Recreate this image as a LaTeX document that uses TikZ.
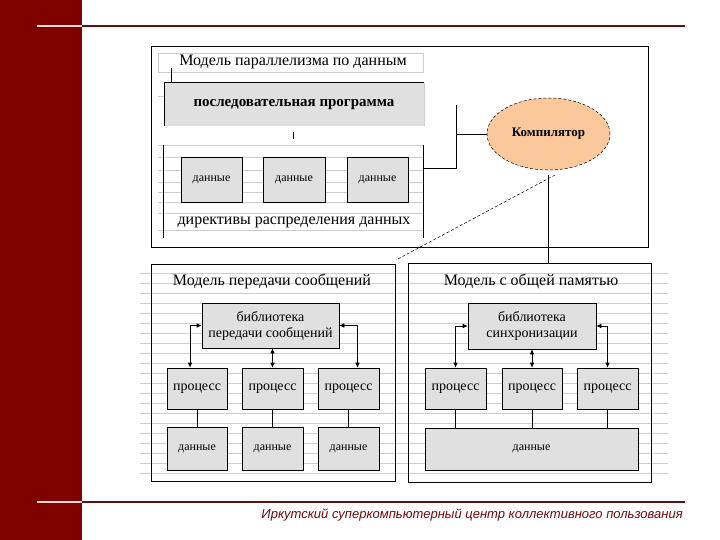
\documentclass[tikz,border=0pt]{standalone}
\usepackage{fontspec}
\setmainfont{Liberation Serif}
\setsansfont{Liberation Sans}
\usetikzlibrary{arrows.meta,shapes.geometric}

\definecolor{bandred}{RGB}{128,0,0}
\definecolor{rulered}{RGB}{90,18,18}
\definecolor{footred}{RGB}{110,10,10}
\definecolor{boxgray}{RGB}{224,224,224}
\definecolor{scanline}{RGB}{205,205,205}
\definecolor{peach}{RGB}{250,200,155}

\begin{document}
\begin{tikzpicture}[x=1pt, y=-1pt,
  every node/.style={font=\fontsize{14}{15}\selectfont, inner sep=0pt},
  title/.style={font=\fontsize{16}{17}\selectfont},
  small/.style={font=\fontsize{12}{13}\selectfont},
  frame/.style={draw=black, line width=0.7pt},
  cell/.style={draw=black, fill=boxgray, line width=0.6pt},
  link/.style={draw=black, line width=0.6pt},
  twoway/.style={link, {Latex[length=5pt,width=4.5pt]}-{Latex[length=5pt,width=4.5pt]}}]
  \useasboundingbox (0,0) rectangle (720,540);

  % slide frame
  \fill[bandred] (0,0) rectangle (82,540);
  \fill[rulered] (82,24.8) rectangle (685,27.2);
  \fill[white!85!red] (37,24.8) rectangle (82,27.2);
  \fill[rulered] (82,500.8) rectangle (685,503.2);
  \fill[white!85!red] (37,500.8) rectangle (82,503.2);
  \node[font=\sffamily\itshape\fontsize{13}{14}\selectfont, text=footred, anchor=east]
    (footer) at (683,515) {Иркутский суперкомпьютерный центр коллективного пользования};

  % scan lines
  \foreach \ly in {53,72,96,145,157,170,182,192,202,213,230}
    \draw[scanline, line width=0.4pt] (158,\ly) -- (423,\ly);
  \foreach \ly in {273,283,...,473}
    \draw[scanline, line width=0.4pt] (140,\ly) -- (668,\ly);

  % data parallel model
  \node[frame, minimum width=497pt, minimum height=201pt] (dpframe) at (399.5,146.5) {};
  \node[draw=scanline, minimum width=265pt, minimum height=19pt] (dphead) at (290.5,62.5) {};
  \node[title] (dptitle) at (293,62) {Модель параллелизма по данным};
  \draw[link, line width=1pt] (171,68) -- (171,82);
  \node[fill=boxgray, minimum width=260pt, minimum height=43pt, font=\fontsize{15}{16}\selectfont]
    (dpprog) at (294,104.5) {\bfseries последовательная программа};
  \draw[link] (dpprog.north west) -- (dpprog.north east);
  \draw[link] (dpprog.north west) -- (dpprog.south west);
  \draw[scanline] (dpprog.north east) -- (dpprog.south east);
  \draw[link] (293,132) -- (293,139);
  \draw[link] (163,145) -- (163,238);
  \draw[link] (423,145) -- (423,238);
  \node[cell, small, minimum width=61pt, minimum height=45pt] (dpdata1) at (211.5,179.5) {данные};
  \node[cell, small, minimum width=62pt, minimum height=45pt] (dpdata2) at (294,179.5) {данные};
  \node[cell, small, minimum width=61pt, minimum height=45pt] (dpdata3) at (377.5,179.5) {данные};
  \node[title] (dpdirect) at (294,222) {директивы распределения данных};

  % compiler
  \node[ellipse, draw=black, densely dashed, line width=0.5pt, fill=peach,
        minimum width=123pt, minimum height=72pt, font=\fontsize{13}{14}\selectfont]
    (comp) at (548.5,134) {\bfseries Компилятор};
  \coordinate (dpout) at (423,168);
  \coordinate (dpjoin) at (456,168);
  \draw[link] (dpout) -- (dpjoin) -- (456,105);
  \draw[link] (dpjoin |- comp.west) -- (comp.west);

  % message passing model
  \node[frame, minimum width=244pt, minimum height=217pt] (mpframe) at (273,372.5) {};
  \node[title] (mptitle) at (272,281) {Модель передачи сообщений};
  \node[cell, minimum width=137pt, minimum height=45pt, align=center] (mplib) at (270.5,325.5)
    {библиотека\\[1pt]передачи сообщений};
  \node[cell, minimum width=60pt, minimum height=41pt] (mpp1) at (197,388.5) {процесс};
  \node[cell, minimum width=61pt, minimum height=41pt] (mpp2) at (272.5,388.5) {процесс};
  \node[cell, minimum width=61pt, minimum height=41pt] (mpp3) at (348.5,388.5) {процесс};
  \node[cell, small, minimum width=60pt, minimum height=43pt] (mpd1) at (197,448.5) {данные};
  \node[cell, small, minimum width=61pt, minimum height=43pt] (mpd2) at (272.5,448.5) {данные};
  \node[cell, small, minimum width=61pt, minimum height=43pt] (mpd3) at (348.5,448.5) {данные};
  \draw[twoway] (mplib.west) -| ([xshift=-7pt]mpp1.north);
  \draw[twoway] (mplib.south -| mpp2.north) -- (mpp2.north);
  \draw[twoway] (mplib.east) -| ([xshift=9pt]mpp3.north);
  \foreach \i in {1,2,3}
    \draw[link] (mpp\i.south) -- (mpd\i.north);

  % shared memory model
  \node[frame, minimum width=243pt, minimum height=219pt] (smframe) at (529.5,372.5) {};
  \node[title] (smtitle) at (531,281) {Модель с общей памятью};
  \node[cell, minimum width=128pt, minimum height=46pt, align=center] (smlib) at (532,326)
    {библиотека\\[1pt]синхронизации};
  \node[cell, minimum width=61pt, minimum height=41pt] (smp1) at (455.5,388.5) {процесс};
  \node[cell, minimum width=60pt, minimum height=41pt] (smp2) at (532,388.5) {процесс};
  \node[cell, minimum width=61pt, minimum height=41pt] (smp3) at (607.5,388.5) {процесс};
  \node[cell, small, minimum width=213pt, minimum height=42pt] (smdata) at (531.5,449) {данные};
  \draw[twoway] (smlib.west) -| (smp1.north);
  \draw[twoway] (smlib.south -| smp2.north) -- (smp2.north);
  \draw[twoway] (smlib.east) -| (smp3.north);
  \foreach \i in {1,2,3}
    \draw[link] (smp\i.south) -- (smp\i.south |- smdata.north);

  % compiler to models
  \draw[link] ([yshift=-5pt]comp.south) -- (comp.south |- smframe.north);
  \coordinate (dashfrom) at (555,175);
  \coordinate (dashto) at (396,260);
  \draw[link, densely dashed, line width=0.5pt] (dashfrom) -- (dashto);
\end{tikzpicture}
\end{document}
